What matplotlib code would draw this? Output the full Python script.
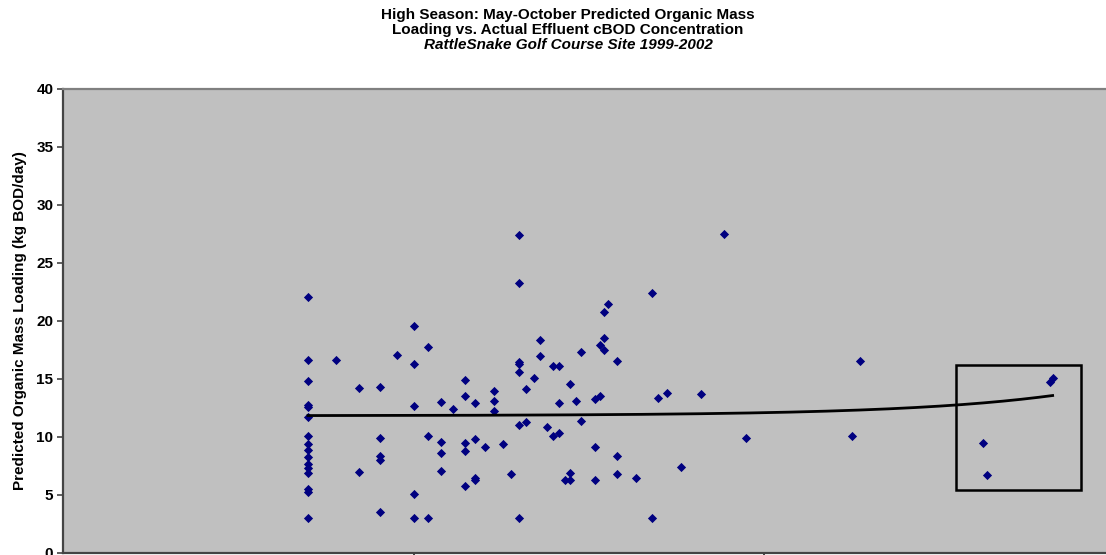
import numpy as np
import matplotlib
matplotlib.use("Agg")
import matplotlib.pyplot as plt
from matplotlib.patches import Rectangle

plt.rcParams['font.family'] = ['Liberation Sans', 'DejaVu Sans']

# effluent cBOD concentration (mg/L) and predicted organic mass loading (kg BOD/day)
conc = [5]*16 + [6] + [7]*2 + [8]*5 + [9] + [10]*5 + [11]*3 + [12]*4 + [13] \
    + [14]*5 + [15]*4 + [16] + [17]*3 + [18] + [19] + [20]*7 + [21]*2 + [22] \
    + [23]*2 + [24] + [25]*2 + [26]*3 + [27] + [28]*3 + [29] + [30]*2 \
    + [33]*3 + [34]*2 + [35]*3 + [36] + [38]*3 + [43] + [48]*2 + [50] + [53] \
    + [58] + [66] + [77] + [89] + [178] + [188] + [422] + [432] + [656] + [666]
loading = [22.1, 16.6, 14.8, 12.8, 12.6, 11.7, 10.1, 9.4, 8.9, 8.3, 7.7, 7.3, 6.9, 5.5, 5.3, 3.0,
           16.6,
           14.2, 7.0,
           14.3, 9.9, 8.4, 8.0, 3.5,
           17.1,
           19.6, 16.3, 12.7, 5.1, 3.0,
           17.8, 10.1, 3.0,
           13.0, 9.6, 8.6, 7.1,
           12.4,
           14.9, 13.5, 9.5, 8.8, 5.8,
           12.9, 9.85, 6.5, 6.3,
           9.1,
           14.0, 13.1, 12.2,
           9.4,
           6.8,
           27.4, 23.3, 16.5, 16.3, 15.6, 11.0, 3.0,
           14.1, 11.3,
           15.1,
           18.4, 16.95,
           10.9,
           16.1, 10.1,
           16.1, 12.9, 10.35,
           6.3,
           14.6, 6.9, 6.3,
           13.1,
           17.3, 11.4,
           13.3, 9.1, 6.3,
           17.9, 13.5,
           20.8, 18.5, 17.5,
           21.5,
           16.55, 8.4, 6.8,
           6.5,
           22.4, 3.0,
           13.4,
           13.8,
           7.4,
           13.7,
           27.5,
           9.9,
           10.1,
           16.55,
           9.5,
           6.75,
           14.75,
           15.1]

# highlighted region (x range, y range)
box_x = [352, 800]
box_y = [5.4, 16.2]

conc = np.array(conc, dtype=float)
loading = np.array(loading)

fig = plt.figure(figsize=(11.06, 5.55), dpi=100)
ax = fig.add_axes([63/1106, 2/555, 1051.5/1106, 464/555])
ax.set_facecolor('#C0C0C0')

ax.scatter(conc, loading, marker='D', s=22, color='#000080', linewidths=0, zorder=3)

# linear trend line (appears curved on the log axis)
b, a = np.polyfit(conc, loading, 1)
xt = np.linspace(conc.min(), conc.max(), 400)
ax.plot(xt, a + b*xt, color='black', lw=2, zorder=4)

ax.add_patch(Rectangle((box_x[0], box_y[0]), box_x[1]-box_x[0], box_y[1]-box_y[0],
                       fill=False, edgecolor='black', lw=1.8, zorder=5))

ax.set_xscale('log')
ax.set_xlim(1, 1000)
ax.set_ylim(0, 40)
ax.set_xticks([10, 100])
ax.xaxis.set_minor_locator(matplotlib.ticker.NullLocator())
ax.tick_params(axis='x', labelbottom=False, length=4, width=1.2, color='#222222')
ax.set_yticks(range(0, 41, 5))
ax.tick_params(axis='y', length=4, width=1.2, color='#444444', labelsize=11, pad=3)
for lab in ax.get_yticklabels():
    lab.set_fontweight('bold')

for s in ['left', 'bottom']:
    ax.spines[s].set_color('#444444')
    ax.spines[s].set_linewidth(1.6)
for s in ['top', 'right']:
    ax.spines[s].set_color('#808080')
    ax.spines[s].set_linewidth(1.6)

ax.set_ylabel('Predicted Organic Mass Loading (kg BOD/day)', fontsize=11,
              fontweight='bold', labelpad=7)

fig.text(568/1106, 1 - 15/555, 'High Season: May-October Predicted Organic Mass',
         ha='center', va='center', fontsize=11, fontweight='bold')
fig.text(568/1106, 1 - 30/555, 'Loading vs. Actual Effluent cBOD Concentration',
         ha='center', va='center', fontsize=11, fontweight='bold')
fig.text(568/1106, 1 - 45/555, 'RattleSnake Golf Course Site 1999-2002',
         ha='center', va='center', fontsize=11, fontweight='bold', style='italic')

fig.savefig('out.png', dpi=100)
